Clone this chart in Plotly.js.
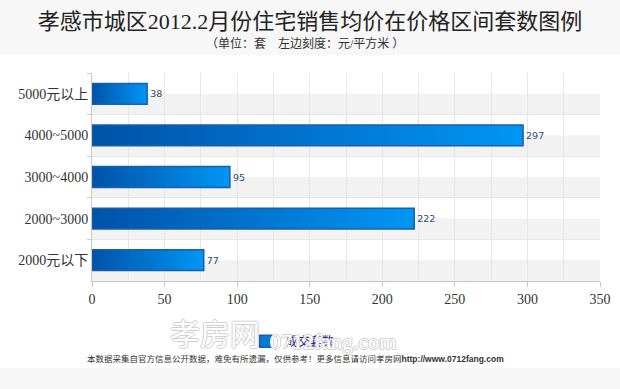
<!DOCTYPE html>
<html>
<head>
<meta charset="utf-8">
<script src="https://cdn.plot.ly/plotly-3.0.1.min.js"></script>
<style>html,body{margin:0;padding:0;background:#fff;}#chart{width:620px;height:389px;}</style>
</head>
<body>
<div id="chart"></div>
<script>
// Data (top to bottom as shown)
var categories = ['5000元以上', '4000~5000', '3000~4000', '2000~3000', '2000元以下'];
var units = [38, 297, 95, 222, 77];
var xTicks = [0, 50, 100, 150, 200, 250, 300, 350];
var seriesName = '成交套数';
var titleText = '孝感市城区2012.2月份住宅销售均价在价格区间套数图例';
var subtitleText = '（单位：套　左边刻度：元/平方米 ）';
var footerText = '本数据采集自官方信息公开数据，难免有所遗漏，仅供参考！更多信息请访问孝房网<span style="font-family:Liberation Sans, Arial, sans-serif;font-weight:bold">http://www.0712fang.com</span>';

var serif = '"Liberation Serif", "Noto Sans CJK SC", serif';

var stripes = categories.map(function (c, i) {
  return {type: 'rect', xref: 'paper', x0: 0, x1: 1, yref: 'y', y0: i, y1: i + 0.5,
    fillcolor: '#f2f2f2', line: {width: 0}, layer: 'below'};
});
var shapes = stripes.concat([
  {type: 'rect', xref: 'paper', yref: 'paper', x0: -0.2, x1: 1.1, y0: 1.0865, y1: 1.45,
   fillcolor: '#f7f7f7', line: {width: 0}, layer: 'below'},
  {type: 'rect', xref: 'paper', yref: 'paper', x0: -0.2, x1: 1.1, y0: -0.418, y1: -0.6,
   fillcolor: '#f7f7f7', line: {width: 0}, layer: 'below'}
]);

var trace = {
  type: 'bar', orientation: 'h', name: seriesName,
  y: categories, x: units,
  text: units.map(String), textposition: 'outside', cliponaxis: false,
  textfont: {family: '"DejaVu Sans", sans-serif', size: 9.5, color: '#2b4a7a'},
  marker: {color: '#0a78d6', line: {color: '#1a5fa8', width: 1.5}},
  width: 0.5, hoverinfo: 'x+y'
};

var outline = '1px 0 0 #cfcfcf, -1px 0 0 #cfcfcf, 0 1px 0 #cfcfcf, 0 -1px 0 #cfcfcf';

var layout = {
  width: 620, height: 389,
  margin: {l: 92, r: 20, t: 73, b: 108},
  paper_bgcolor: '#ffffff', plot_bgcolor: 'rgba(0,0,0,0)',
  showlegend: true,
  legend: {orientation: 'h', x: 0.395, y: -0.29, xanchor: 'center', yanchor: 'middle',
    bgcolor: 'rgba(0,0,0,0)', font: {family: serif, size: 12, color: '#1a237e'}},
  title: {text: titleText, x: 0.5, xanchor: 'center', y: 1 - 21 / 389, yanchor: 'middle', yref: 'container',
    font: {family: serif, size: 22, color: '#222'}},
  xaxis: {range: [0, 350], tickvals: xTicks, ticks: 'outside', ticklen: 5, tickcolor: '#c8c8c8',
    showline: true, linecolor: '#c8c8c8', linewidth: 1, zeroline: false,
    showgrid: true, gridcolor: '#e6e6e6',
    minor: {dtick: 25, showgrid: true, gridcolor: '#e6e6e6'},
    tickfont: {family: serif, size: 14, color: '#333'}, fixedrange: true},
  yaxis: {type: 'category', autorange: 'reversed', tickson: 'boundaries', ticks: 'outside', ticklen: 4,
    tickcolor: '#c8c8c8', showline: true, linecolor: '#c8c8c8', showgrid: true, gridcolor: '#e6e6e6',
    tickfont: {family: serif, size: 14, color: '#333'}, fixedrange: true},
  shapes: shapes,
  annotations: [
    {text: '孝房网', xref: 'paper', yref: 'paper', x: 0.242, y: -0.245, showarrow: false,
     xanchor: 'center', yanchor: 'middle', font: {family: '"Noto Sans CJK SC", sans-serif', size: 30, color: '#ffffff', shadow: outline}},
    {text: '0712fang.com', xref: 'paper', yref: 'paper', x: 0.475, y: -0.29, showarrow: false,
     xanchor: 'center', yanchor: 'middle', font: {family: serif, size: 22, color: '#ffffff', shadow: outline}},
    {text: subtitleText, xref: 'paper', yref: 'paper', x: 0.42, y: 1.144, showarrow: false,
     xanchor: 'center', yanchor: 'middle', font: {family: serif, size: 12, color: '#333'}},
    {text: footerText, xref: 'paper', yref: 'paper', x: -0.014, y: -0.375, showarrow: false,
     xanchor: 'left', yanchor: 'middle', font: {family: serif, size: 8.5, color: '#333'}}
  ]
};

var gd = document.getElementById('chart');
Plotly.newPlot(gd, [trace], layout, {displayModeBar: false, staticPlot: true}).then(function () {
  var svg = gd.querySelector('svg.main-svg');
  var ns = 'http://www.w3.org/2000/svg';
  var defs = svg.querySelector('defs') || svg.insertBefore(document.createElementNS(ns, 'defs'), svg.firstChild);
  var g = document.createElementNS(ns, 'linearGradient');
  g.setAttribute('id', 'barGrad'); g.setAttribute('x1', '0'); g.setAttribute('x2', '1');
  g.setAttribute('y1', '0'); g.setAttribute('y2', '0');
  [['0', '#0052a8'], ['1', '#0096f5']].forEach(function (s) {
    var st = document.createElementNS(ns, 'stop');
    st.setAttribute('offset', s[0]); st.setAttribute('stop-color', s[1]); g.appendChild(st);
  });
  defs.appendChild(g);
  gd.querySelectorAll('.barlayer .point path').forEach(function (p) { p.style.fill = 'url(#barGrad)'; });
});
</script>
</body>
</html>
